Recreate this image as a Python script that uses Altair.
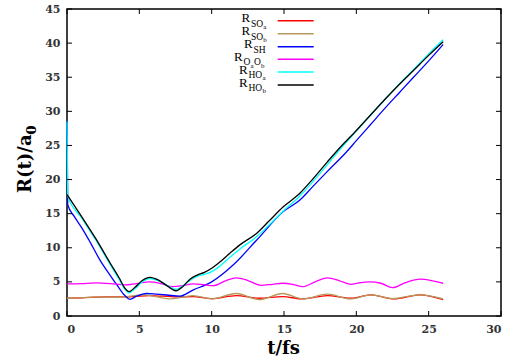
import altair as alt
import pandas as pd

# ---------------- data ----------------
t_SOa = [0, 1, 2.5, 4.3, 5.7, 7.6, 8.7, 10, 11.7, 13.3, 14.9, 16.3, 18, 19.6, 21, 22.6, 24.4, 26]
r_SOa = [2.6, 2.65, 2.8, 2.8, 3.0, 2.8, 2.85, 2.55, 3.0, 2.6, 2.85, 2.5, 3.0, 2.6, 3.1, 2.5, 3.1, 2.4]

t_SOb = [0, 1, 2, 3.5, 5.3, 7.2, 8.7, 10, 11.7, 13.3, 14.9, 16.3, 18, 19.6, 21, 22.5, 24.4, 26]
r_SOb = [2.6, 2.65, 2.8, 2.75, 3.1, 2.5, 3.0, 2.5, 3.3, 2.4, 3.3, 2.5, 3.2, 2.5, 3.1, 2.55, 3.1, 2.5]

t_SH = [0, 0.05, 0.5, 1, 1.5, 2.28, 2.97, 3.5, 4.0, 4.35, 4.8, 5.5, 6.2, 6.9, 7.8, 8.7, 10,
        11.5, 13.1, 14.95, 16.1, 17, 18, 19.3, 20, 21, 22, 23, 24, 25, 26]
r_SH = [28.5, 16.3, 14.6, 13.0, 11.2, 8.2, 6.0, 4.4, 3.0, 2.45, 2.9, 3.3, 3.2, 3.08, 2.9, 3.8, 5.0,
        7.5, 11.1, 15.3, 17.0, 19.0, 21.2, 24.0, 25.7, 28.1, 30.5, 32.8, 35.1, 37.4, 39.8]

t_OaOb = [0, 1, 2, 3, 4, 4.8, 5.7, 6.5, 7.3, 8.0, 8.7, 9.4, 10.1, 11, 11.7, 12.5, 13.4, 14.2, 14.9,
          15.6, 16.3, 17.2, 18.0, 18.8, 19.6, 20.3, 20.9, 21.7, 22.5, 23.4, 24.4, 25.2, 26]
r_OaOb = [4.7, 4.75, 4.85, 4.75, 4.55, 4.75, 5.0, 4.75, 4.3, 4.45, 4.7, 4.6, 4.45, 5.2, 5.6, 5.2, 4.5, 4.65, 4.8,
          4.65, 4.3, 5.05, 5.6, 5.2, 4.65, 4.9, 5.0, 4.8, 4.15, 4.9, 5.4, 5.2, 4.8]

t_HOa = [0, 0.05, 1, 2, 3, 3.6, 4.0, 4.28, 4.7, 5.2, 5.74, 6.3, 7.0, 7.53, 8.0, 8.5, 9, 9.5, 10, 10.5,
         11.26, 12, 13.1, 14, 14.95, 16.1, 17, 18, 18.7, 20, 21, 22, 23, 24, 25, 26]
r_HOa = [28.5, 17.6, 14.4, 11.1, 7.5, 5.4, 3.9, 3.4, 4.0, 5.0, 5.5, 5.2, 4.4, 3.9, 4.4, 5.2, 5.8, 6.1, 6.5, 7.2,
         8.6, 9.9, 11.6, 13.4, 15.4, 17.6, 19.7, 22.2, 24.0, 27.1, 29.5, 31.8, 34.1, 36.2, 38.4, 40.5]

t_HOb = [0, 1, 2, 3, 3.6, 4.0, 4.28, 4.7, 5.2, 5.74, 6.3, 7.0, 7.53, 8.0, 8.5, 9, 9.5, 10, 10.5,
         11.26, 12, 13.1, 14, 14.95, 16.1, 17, 18, 18.7, 20, 21, 22, 23, 24, 25, 26]
r_HOb = [17.8, 14.6, 11.3, 7.7, 5.6, 4.1, 3.56, 4.2, 5.2, 5.67, 5.3, 4.3, 3.7, 4.3, 5.4, 6.0, 6.4, 7.0, 7.8,
         9.2, 10.5, 12.1, 14.0, 16.0, 18.0, 20.1, 22.6, 24.3, 27.2, 29.5, 31.8, 34.0, 36.1, 38.2, 40.2]

series_names = ["SOa", "SOb", "SH", "OaOb", "HOa", "HOb"]
series_colors = ["#ff0000", "#b8975a", "#0000ff", "#ff00ff", "#00ffff", "#000000"]
series_t = [t_SOa, t_SOb, t_SH, t_OaOb, t_HOa, t_HOb]
series_r = [r_SOa, r_SOb, r_SH, r_OaOb, r_HOa, r_HOb]

x_ticks = [0, 5, 10, 15, 20, 25, 30]
y_ticks = [0, 5, 10, 15, 20, 25, 30, 35, 40, 45]

x_title = "t/fs"
y_title_main = "R(t)/a"
y_title_sub = "0"

# legend label pieces: text, font size, left x (px), level (0 main, 1 subscript, 2 sub-subscript)
leg_text = ["R", "SO", "a",
            "R", "SO", "b",
            "R", "SH",
            "R", "O", "a", "O", "b",
            "R", "HO", "a",
            "R", "HO", "b"]
leg_size = [13, 9.5, 7,
            13, 9.5, 7,
            13, 9.5,
            13, 9.5, 7, 9.5, 7,
            13, 9.5, 7,
            13, 9.5, 7]
leg_x = [174.5, 184.0, 196.3,
         174.5, 184.0, 196.3,
         177.0, 186.5,
         167.0, 176.5, 183.6, 187.0, 194.0,
         172.0, 181.5, 195.5,
         172.0, 181.5, 195.5]
leg_row_y = [11.7, 24.7, 37.7, 50.3, 63, 76]
leg_rows = [0, 0, 0, 1, 1, 1, 2, 2, 3, 3, 3, 3, 3, 4, 4, 4, 5, 5, 5]
leg_level = [0, 1, 2, 0, 1, 2, 0, 1, 0, 1, 2, 1, 2, 0, 1, 2, 0, 1, 2]

# ---------------- chart ----------------
W, H = 434, 307
SERIF = "DejaVu Serif"
xs = alt.Scale(domain=[0, 30], nice=False, zero=False)
ys = alt.Scale(domain=[0, 45], nice=False, zero=False)

x_axis = alt.Axis(values=x_ticks, ticks=False, domain=False, grid=False,
                  labelFont=SERIF, labelFontWeight="bold", labelFontSize=11, labelColor="#333333",
                  labelPadding=7, title=x_title, titleFont=SERIF, titleFontWeight="bold",
                  titleFontSize=18, titleColor="#000000", titleX=216, titleY=32,
                  titleBaseline="middle", titleAlign="center")
y_axis = alt.Axis(values=y_ticks, ticks=False, domain=False, grid=False,
                  labelFont=SERIF, labelFontWeight="bold", labelFontSize=11, labelColor="#333333",
                  labelPadding=7, title=None)

layers = []
for name, tt, rr, col in zip(series_names, series_t, series_r, series_colors):
    df = pd.DataFrame({"t": tt, "r": rr})
    layers.append(
        alt.Chart(df).mark_line(color=col, strokeWidth=1.3, interpolate="monotone").encode(
            x=alt.X("t:Q", scale=xs, axis=x_axis),
            y=alt.Y("r:Q", scale=ys, axis=y_axis),
        )
    )

# inward ticks on all four sides
xt = pd.DataFrame({"t": x_ticks})
yt = pd.DataFrame({"r": y_ticks})
tick_style = dict(color="black", strokeWidth=1)
layers.append(alt.Chart(xt).mark_rule(**tick_style).encode(
    x=alt.X("t:Q", scale=xs, axis=x_axis), y=alt.value(H), y2=alt.value(H - 5)))
layers.append(alt.Chart(xt).mark_rule(**tick_style).encode(
    x=alt.X("t:Q", scale=xs, axis=x_axis), y=alt.value(0), y2=alt.value(5)))
layers.append(alt.Chart(yt).mark_rule(**tick_style).encode(
    y=alt.Y("r:Q", scale=ys, axis=y_axis), x=alt.value(0), x2=alt.value(5)))
layers.append(alt.Chart(yt).mark_rule(**tick_style).encode(
    y=alt.Y("r:Q", scale=ys, axis=y_axis), x=alt.value(W), x2=alt.value(W - 5)))

# y axis title with a real subscript (rotated)
layers.append(alt.Chart(pd.DataFrame({"s": [y_title_main]})).mark_text(
    font=SERIF, fontWeight="bold", fontSize=18, angle=270, align="left",
    baseline="alphabetic", color="#000000").encode(
    x=alt.value(-36), y=alt.value(184), text="s:N"))
layers.append(alt.Chart(pd.DataFrame({"s": [y_title_sub]})).mark_text(
    font=SERIF, fontWeight="bold", fontSize=13, angle=270, align="left",
    baseline="alphabetic", color="#000000").encode(
    x=alt.value(-31.5), y=alt.value(125.5), text="s:N"))

# legend sample lines
leg_lines = pd.DataFrame({"ly": leg_row_y, "c": series_colors})
layers.append(alt.Chart(leg_lines).mark_rule(strokeWidth=1.5).encode(
    x=alt.value(210.7), x2=alt.value(246.7),
    y=alt.Y("ly:Q", scale=None, axis=None),
    color=alt.Color("c:N", scale=None, legend=None)))

# legend labels with subscripts
level_dy = [1.5, 5.8, 8.3]
leg_df = pd.DataFrame({
    "txt": leg_text,
    "fs": leg_size,
    "lx": leg_x,
    "ly": [leg_row_y[r] + level_dy[l] for r, l in zip(leg_rows, leg_level)],
})
layers.append(alt.Chart(leg_df).mark_text(font="Liberation Serif", align="left",
                                          baseline="alphabetic", color="#000000").encode(
    x=alt.X("lx:Q", scale=None, axis=None),
    y=alt.Y("ly:Q", scale=None, axis=None),
    size=alt.Size("fs:Q", scale=None, legend=None),
    text="txt:N"))

chart = alt.layer(*layers).properties(
    width=W, height=H,
    autosize=alt.AutoSizeParams(type="none"),
    padding={"left": 67, "top": 9, "right": 11, "bottom": 46},
).configure_view(stroke="#000000", strokeWidth=1.5)

chart.save("out.html", embed_options={"renderer": "svg", "actions": False})
